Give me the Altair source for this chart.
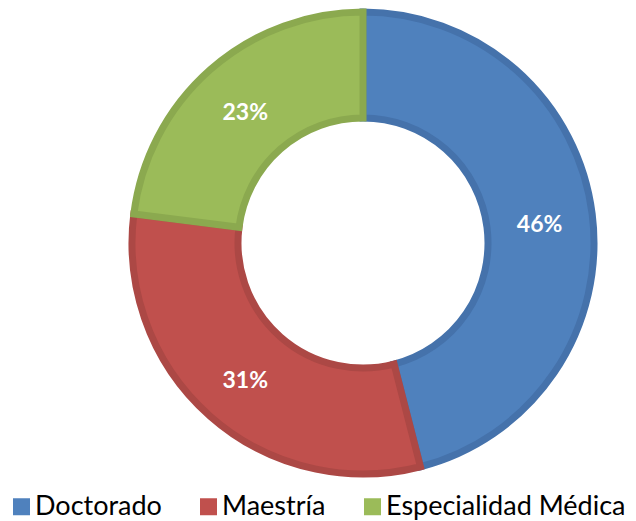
import altair as alt
import pandas as pd

categories = ["Doctorado", "Maestría", "Especialidad Médica"]
values = [46, 31, 23]
labels = ["46%", "31%", "23%"]
fill_colors = ["#4F81BD", "#C0504D", "#9BBB59"]
stroke_colors = ["#4572AB", "#AC4845", "#8BA94F"]

df = pd.DataFrame({"cat": categories, "val": values, "lab": labels, "ord": [0, 1, 2]})

CX, CY = 355, 235

base = alt.Chart(df).encode(
    theta=alt.Theta("val:Q", stack=True),
    order=alt.Order("ord:Q"),
)

arcs = base.mark_arc(outerRadius=231, innerRadius=125, strokeWidth=7, strokeJoin="miter").encode(
    x=alt.value(CX),
    y=alt.value(CY),
    color=alt.Color(
        "cat:N",
        sort=categories,
        scale=alt.Scale(domain=categories, range=fill_colors),
        legend=alt.Legend(
            title=None,
            orient="none",
            legendX=0,
            legendY=485,
            direction="horizontal",
            symbolType="square",
            symbolSize=289,
            symbolStrokeWidth=0,
            labelFont="Lato",
            labelFontSize=27,
            labelColor="#000000",
            labelOffset=0,
            columnPadding=33,
            labelLimit=400,
        ),
    ),
    stroke=alt.Stroke(
        "cat:N",
        scale=alt.Scale(domain=categories, range=stroke_colors),
        legend=None,
    ),
)

text = base.mark_text(radius=178, font="Lato", fontSize=23, fontWeight="bold", color="white", dy=4).encode(
    x=alt.value(CX),
    y=alt.value(CY),
    text="lab:N",
)

chart = (arcs + text).properties(
    width=620,
    height=513,
    autosize=alt.AutoSizeParams(type="none"),
    padding=0,
).configure_view(stroke=None)

chart.save("out.html", embed_options={"renderer": "svg", "actions": False})
